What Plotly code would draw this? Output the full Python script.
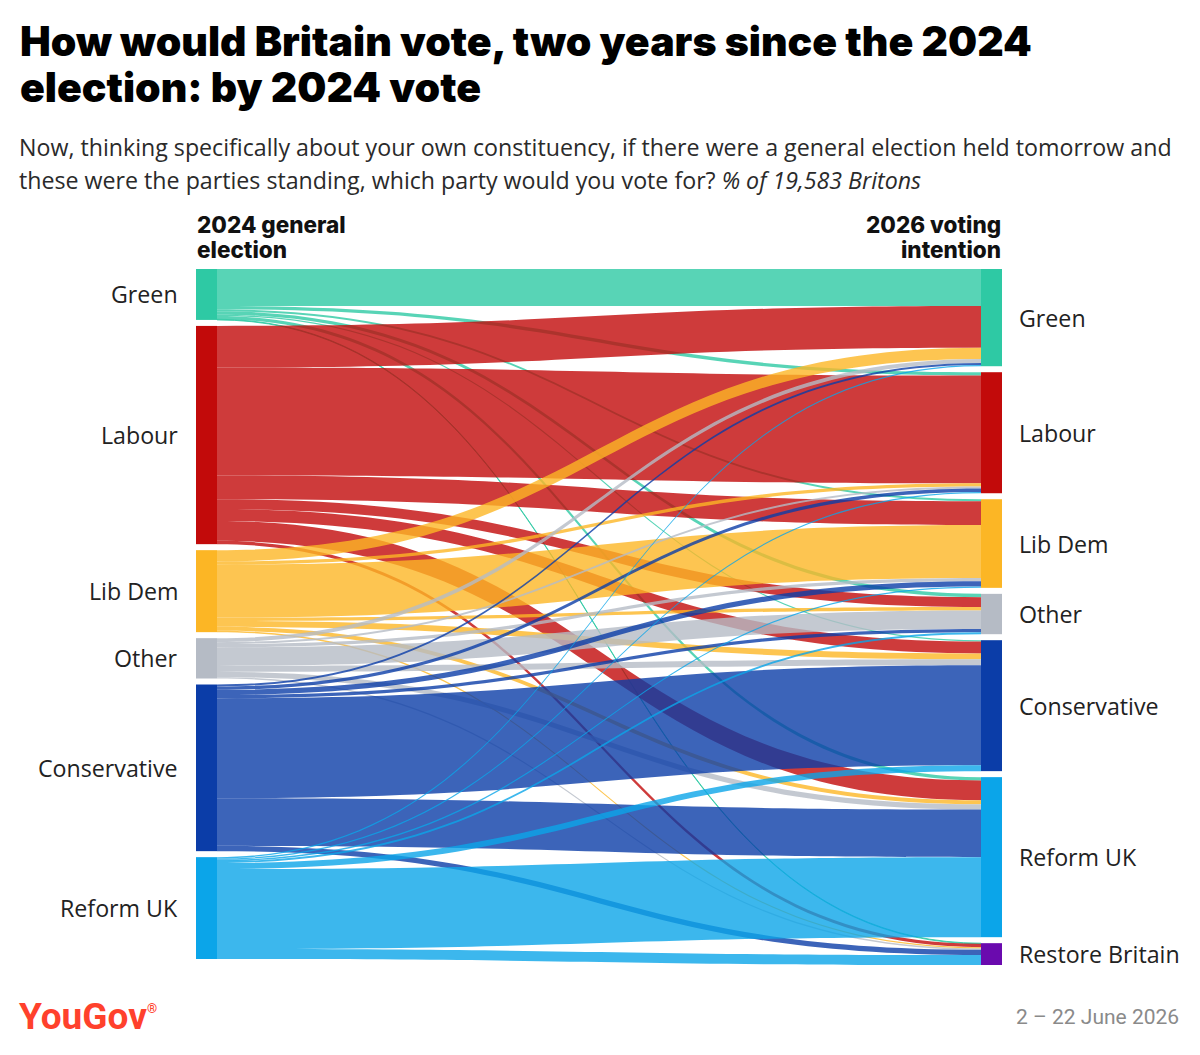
import plotly.graph_objects as go

# ---------------- data (share of 19,583 Britons, %) ----------------
parties_2024 = ["Green", "Labour", "Lib Dem", "Other", "Conservative", "Reform UK"]
parties_2026 = ["Green", "Labour", "Lib Dem", "Other", "Conservative", "Reform UK", "Restore Britain"]

# rows: 2024 vote -> columns: 2026 voting intention (same order as parties_2026)
from_green = [5.6, 0.5, 0.3, 0.5, 0.2, 0.5, 0.1]
from_labour = [6.3, 16.3, 3.6, 1.5, 1.8, 3.0, 0.5]
from_libdem = [1.7, 0.5, 8.0, 0.5, 0.9, 0.6, 0.2]
from_other = [0.6, 0.3, 0.5, 2.8, 0.9, 0.8, 0.2]
from_conservative = [0.3, 0.5, 0.8, 0.5, 15.1, 7.2, 0.8]
from_reform = [0.2, 0.2, 0.2, 0.3, 0.9, 12.1, 1.5]

colors_2024 = ["#2ec9a4", "#c20a0a", "#fcb625", "#b5bbc5", "#0b3da8", "#0ba5e9"]
colors_2026 = ["#2ec9a4", "#c20a0a", "#fcb625", "#b5bbc5", "#0b3da8", "#0ba5e9", "#6a0aae"]

title_lines = ["How would Britain vote, two years since the 2024", "election: by 2024 vote"]
subtitle_lines = [
    "Now, thinking specifically about your own constituency, if there were a general election held tomorrow and",
    "these were the parties standing, which party would you vote for? <i>% of 19,583 Britons</i>",
]
left_header = ["2024 general", "election"]
right_header = ["2026 voting", "intention"]
brand_text = "YouGov"
source_text = "2 – 22 June 2026"

# ---------------- layout geometry ----------------
W, HP = 1200, 1055
L, R, T, B = 196, 198, 269, 90
PW = W - L - R
PH = HP - T - B
PAD = 6
THICK = 21

rows = [from_green, from_labour, from_libdem, from_other, from_conservative, from_reform]
n_left, n_right = len(parties_2024), len(parties_2026)
left_tot = [sum(r) for r in rows]
right_tot = [sum(r[j] for r in rows) for j in range(n_right)]
ky = min((PH - (n_left - 1) * PAD) / sum(left_tot), (PH - (n_right - 1) * PAD) / sum(right_tot))


def centers(tots):
    out, top = [], 0.0
    for t in tots:
        h = t * ky
        out.append(top + h / 2)
        top += h + PAD
    return out


left_c = centers(left_tot)
right_c = centers(right_tot)

node_x = [(THICK / 2) / PW] * n_left + [1 - (THICK / 2) / PW] * n_right
node_y = [c / PH for c in left_c] + [c / PH for c in right_c]


def rgba(hexc, a):
    hexc = hexc.lstrip("#")
    r, g, b = int(hexc[0:2], 16), int(hexc[2:4], 16), int(hexc[4:6], 16)
    return f"rgba({r},{g},{b},{a})"


src, tgt, val, lcol = [], [], [], []
for i, r in enumerate(rows):
    for j, v in enumerate(r):
        src.append(i)
        tgt.append(n_left + j)
        val.append(v)
        lcol.append(rgba(colors_2024[i], 0.8))

names = parties_2024 + parties_2026

fig = go.Figure(
    go.Sankey(
        arrangement="fixed",
        domain=dict(x=[0, 1], y=[0, 1]),
        node=dict(
            label=[""] * len(names),
            customdata=names,
            hovertemplate="%{customdata}: %{value:.1f}%<extra></extra>",
            color=colors_2024 + colors_2026,
            line=dict(width=0),
            pad=PAD,
            thickness=THICK,
            x=node_x,
            y=node_y,
        ),
        link=dict(source=src, target=tgt, value=val, color=lcol,
                  hovertemplate="%{source.customdata} → %{target.customdata}: %{value:.1f}%<extra></extra>"),
    )
)


def px2x(px):
    return (px - L) / PW


def py2y(py):
    return (HP - B - py) / PH


ann = []


def add(text, px, py, size, family, color="#111", xanchor="left", weight="normal"):
    ann.append(dict(text=text, x=px2x(px), y=py2y(py), xref="paper", yref="paper",
                    xanchor=xanchor, yanchor="middle", showarrow=False,
                    font=dict(size=size, family=family, color=color, weight=weight)))


# title
add(title_lines[0], 18, 41, 41, "Inter", "#000", weight=900)
add(title_lines[1], 18, 87, 41, "Inter", "#000", weight=900)
# subtitle
add(subtitle_lines[0], 17, 147, 23.2, "Open Sans", "#2a2a2a")
add(subtitle_lines[1], 17, 180, 23.2, "Open Sans", "#2a2a2a")
# headers
add(left_header[0], 195, 225, 22.5, "Inter", "#111", weight=800)
add(left_header[1], 195, 250, 22.5, "Inter", "#111", weight=800)
add(right_header[0], 1003, 225, 22.5, "Inter", "#111", xanchor="right", weight=800)
add(right_header[1], 1003, 250, 22.5, "Inter", "#111", xanchor="right", weight=800)
# node labels
for name, c in zip(parties_2024, left_c):
    add(name, 180, T + c, 23.2, "Open Sans", "#222", xanchor="right")
for name, c in zip(parties_2026, right_c):
    add(name, 1017, T + c, 23.2, "Open Sans", "#222", xanchor="left")
# footer
add(brand_text + "<sup><span style='font-size:13px'>®</span></sup>", 17, 1016, 37,
    "Roboto", "#ff412c", weight=700)
add(source_text, 1181, 1017, 21, "Roboto", "#8a8a8a", xanchor="right")

fig.update_layout(
    width=W, height=HP,
    margin=dict(l=L, r=R, t=T, b=B, pad=0),
    paper_bgcolor="white",
    plot_bgcolor="white",
    annotations=ann,
    showlegend=False,
)

fig.write_html("out.html")
